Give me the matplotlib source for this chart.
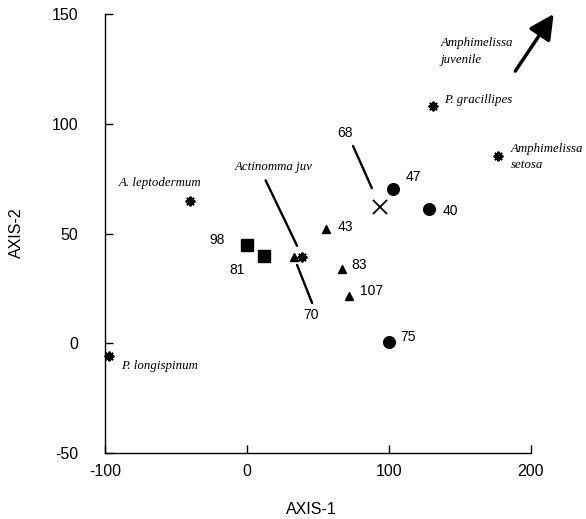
import matplotlib
matplotlib.use("Agg")
import matplotlib.pyplot as plt

plt.rcParams['axes.unicode_minus'] = False

# sample scores on the first two axes, grouped by marker type
square_x = [0, 12]
square_y = [45, 40]
square_ids = ['98', '81']

triangle_x = [33, 56, 67, 72]
triangle_y = [39.5, 52, 34, 21.5]
triangle_ids = ['70', '43', '83', '107']

circle_x = [100, 103, 128]
circle_y = [0.5, 70.5, 61]
circle_ids = ['75', '47', '40']

cross_x = [94]
cross_y = [62]
cross_ids = ['68']

# species scores (asterisks)
species = ['A. leptodermum', 'P. longispinum', 'Actinomma juv',
           'P. gracillipes', 'Amphimelissa\nsetosa']
species_x = [-40, -97, 39, 131, 177]
species_y = [65, -6, 39.5, 108, 85.5]

# Amphimelissa juvenile lies off the plot: arrow points toward it
juvenile_tail = (189, 124)
juvenile_head = (216, 150)

x_ticks = [-100, 0, 100, 200]
y_ticks = [-50, 0, 50, 100, 150]

# label offsets in points
id_offsets = {'98': (-21.6, 3), '81': (-19, -10.5), '70': (12.7, -42),
              '43': (14, 1.7), '83': (12.5, 2.7), '107': (16, 3.8),
              '75': (14, 3.4), '47': (14.2, 8.1), '40': (15.6, -1.2),
              '68': (-25.2, 53.3)}
species_offsets = {'A. leptodermum': (-21.8, 12.5, 'center'),
                   'P. longispinum': (8.9, -7, 'left'),
                   'Actinomma juv': (-20.7, 64.5, 'center'),
                   'P. gracillipes': (7.9, 4.3, 'left'),
                   'Amphimelissa\nsetosa': (9.1, -1.2, 'left')}

num_font = dict(family='Liberation Sans', size=10)
sp_font = dict(family='Liberation Serif', style='italic', size=9.3)


def main():
    fig = plt.figure(figsize=(5.86, 5.19), dpi=100)
    ax = fig.add_axes([0.179, 0.127, 0.727, 0.846])

    ax.plot(square_x, square_y, 's', color='black', ms=8.4, zorder=3)
    ax.plot(triangle_x, triangle_y, '^', color='black', ms=6, zorder=3)
    ax.plot(circle_x, circle_y, 'o', color='black', ms=8.4, zorder=3)
    ax.plot(cross_x, cross_y, 'x', color='black', ms=9.6, mew=1.3, zorder=3)
    ax.plot(species_x, species_y, marker=(8, 2, 0), ls='none', color='black',
            ms=7, mew=1.4, zorder=3, clip_on=False)

    all_x = square_x + triangle_x + circle_x + cross_x
    all_y = square_y + triangle_y + circle_y + cross_y
    all_ids = square_ids + triangle_ids + circle_ids + cross_ids
    for x, y, s in zip(all_x, all_y, all_ids):
        ax.annotate(s, (x, y), xytext=id_offsets[s], textcoords='offset points',
                    ha='center', va='center', **num_font)

    for x, y, s in zip(species_x, species_y, species):
        dx, dy, ha = species_offsets[s]
        ax.annotate(s, (x, y), xytext=(dx, dy), textcoords='offset points',
                    ha=ha, va='center', linespacing=1.45, **sp_font)

    # leader lines
    leaders = [((triangle_x[0], triangle_y[0]), (13.2, -33.4), 6.5),
               ((cross_x[0], cross_y[0]), (-19.7, 44.1), 15),
               ((species_x[2], species_y[2]), (-26.4, 54.9), 8.6)]
    for xy, off, shrink in leaders:
        ax.annotate('', xy, xytext=off, textcoords='offset points',
                    arrowprops=dict(arrowstyle='-', lw=1.7, color='black',
                                    shrinkA=0, shrinkB=shrink))

    ax.annotate('', xy=juvenile_head, xytext=juvenile_tail,
                arrowprops=dict(arrowstyle='-|>,head_length=0.75,head_width=0.38',
                                lw=2.5, color='black', mutation_scale=20,
                                shrinkA=0, shrinkB=0),
                annotation_clip=False)
    ax.annotate('Amphimelissa\njuvenile', juvenile_tail, xytext=(-54, 14.2),
                textcoords='offset points', ha='left', va='center',
                linespacing=1.5, annotation_clip=False, **sp_font)

    ax.set_xlim(-100, 200)
    ax.set_ylim(-50, 150)
    ax.set_xticks(x_ticks)
    ax.set_yticks(y_ticks)
    for side in ['top', 'right']:
        ax.spines[side].set_visible(False)
    for side in ['left', 'bottom']:
        ax.spines[side].set_linewidth(1.0)
    ax.tick_params(axis='both', direction='in', length=6, width=1)
    ax.tick_params(axis='y', pad=19)
    ax.tick_params(axis='x', pad=8)
    for lbl in ax.get_xticklabels() + ax.get_yticklabels():
        lbl.set_fontfamily('Liberation Sans')
        lbl.set_fontsize(11.5)

    ax.set_xlabel('AXIS-1', family='Liberation Sans', fontsize=11.5)
    ax.set_ylabel('AXIS-2', family='Liberation Sans', fontsize=11.5)
    ax.xaxis.set_label_coords(0.484, -0.112)
    ax.yaxis.set_label_coords(-0.19, 0.501)

    fig.savefig('out.png', dpi=100)


main()
